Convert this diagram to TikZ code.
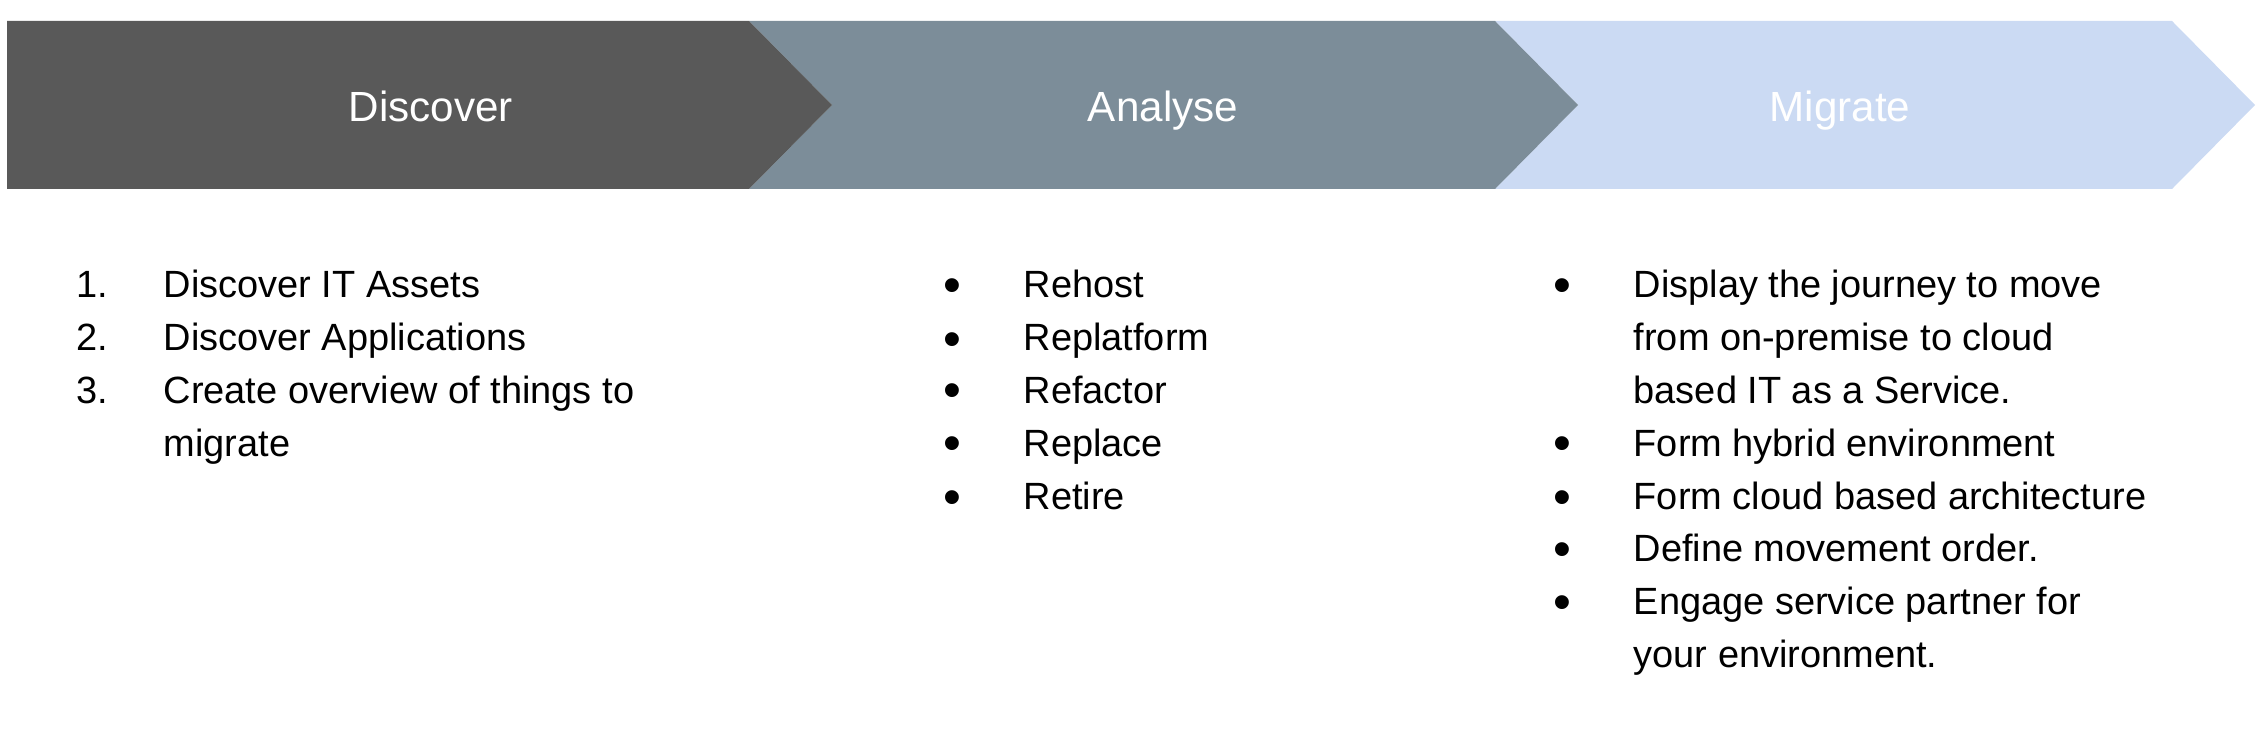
\documentclass[tikz,border=0pt]{standalone}
\usepackage{fontspec}
\setmainfont{Liberation Sans}
\usepackage{xcolor}
\usepackage{tikz}
\definecolor{discgrey}{HTML}{595959}
\definecolor{anaslate}{HTML}{7C8D99}
\definecolor{migblue}{HTML}{CBDAF3}
\tikzset{
    phasetitle/.style={text=white, anchor=base, inner sep=0pt, font=\fontsize{12pt}{14pt}\selectfont},
    itemtext/.style={anchor=base west, inner sep=0pt, align=left, font=\fontsize{10.8pt}{15pt}\selectfont},
    itemnum/.style={anchor=base west, inner sep=0pt, font=\fontsize{10.8pt}{15pt}\selectfont},
    itembullet/.style={anchor=base, inner sep=0pt, yshift=-0.5mm, font=\fontsize{14.5pt}{15pt}\selectfont}}

\begin{document}
\begin{tikzpicture}[x=0.1mm, y=-0.1mm]

            \useasboundingbox (0,0) rectangle (2266,750);

            \fill[migblue] (1495,21) -- (2172,21) -- (2255,105) -- (2172,189) -- (1495,189) -- (1578,105) -- cycle;
            \fill[anaslate] (749,21) -- (1495,21) -- (1578,105) -- (1495,189) -- (749,189) -- (832,105) -- cycle;
            \fill[discgrey] (7,21) -- (749,21) -- (832,105) -- (749,189) -- (7,189) -- cycle;

            \node[phasetitle] (hd) at (431,122) {Discover};
            \node[phasetitle] (ha) at (1163,122) {Analyse};
            \node[phasetitle] (hm) at (1840,122) {Migrate};

            % multi-line items sit on the baseline of their last line
            \node[itemnum] (n1) at (76,298) {1.};
            \node[itemnum] (n2) at (76,351) {2.};
            \node[itemnum] (n3) at (76,403) {3.};
            \node[itemtext] (d1) at (163,298) {Discover IT Assets};
            \node[itemtext] (d2) at (163,351) {Discover Applications};
            \node[itemtext] (d3) at (163,456) {Create overview of things to\\migrate};

            \node[itembullet] (b1) at (952,298) {•};
            \node[itembullet] (b2) at (952,351) {•};
            \node[itembullet] (b3) at (952,403) {•};
            \node[itembullet] (b4) at (952,456) {•};
            \node[itembullet] (b5) at (952,509) {•};
            \node[itemtext] (a1) at (1023,298) {Rehost};
            \node[itemtext] (a2) at (1023,351) {Replatform};
            \node[itemtext] (a3) at (1023,403) {Refactor};
            \node[itemtext] (a4) at (1023,456) {Replace};
            \node[itemtext] (a5) at (1023,509) {Retire};

            \node[itembullet] (c1) at (1562,298) {•};
            \node[itembullet] (c2) at (1562,456) {•};
            \node[itembullet] (c3) at (1562,509) {•};
            \node[itembullet] (c4) at (1562,561) {•};
            \node[itembullet] (c5) at (1562,614) {•};
            \node[itemtext] (m1) at (1633,403) {Display the journey to move\\from on-premise to cloud\\based IT as a Service.};
            \node[itemtext] (m2) at (1633,456) {Form hybrid environment};
            \node[itemtext] (m3) at (1633,509) {Form cloud based architecture};
            \node[itemtext] (m4) at (1633,561) {Define movement order.};
            \node[itemtext] (m5) at (1633,667) {Engage service partner for\\your environment.};

\end{tikzpicture}
\end{document}
